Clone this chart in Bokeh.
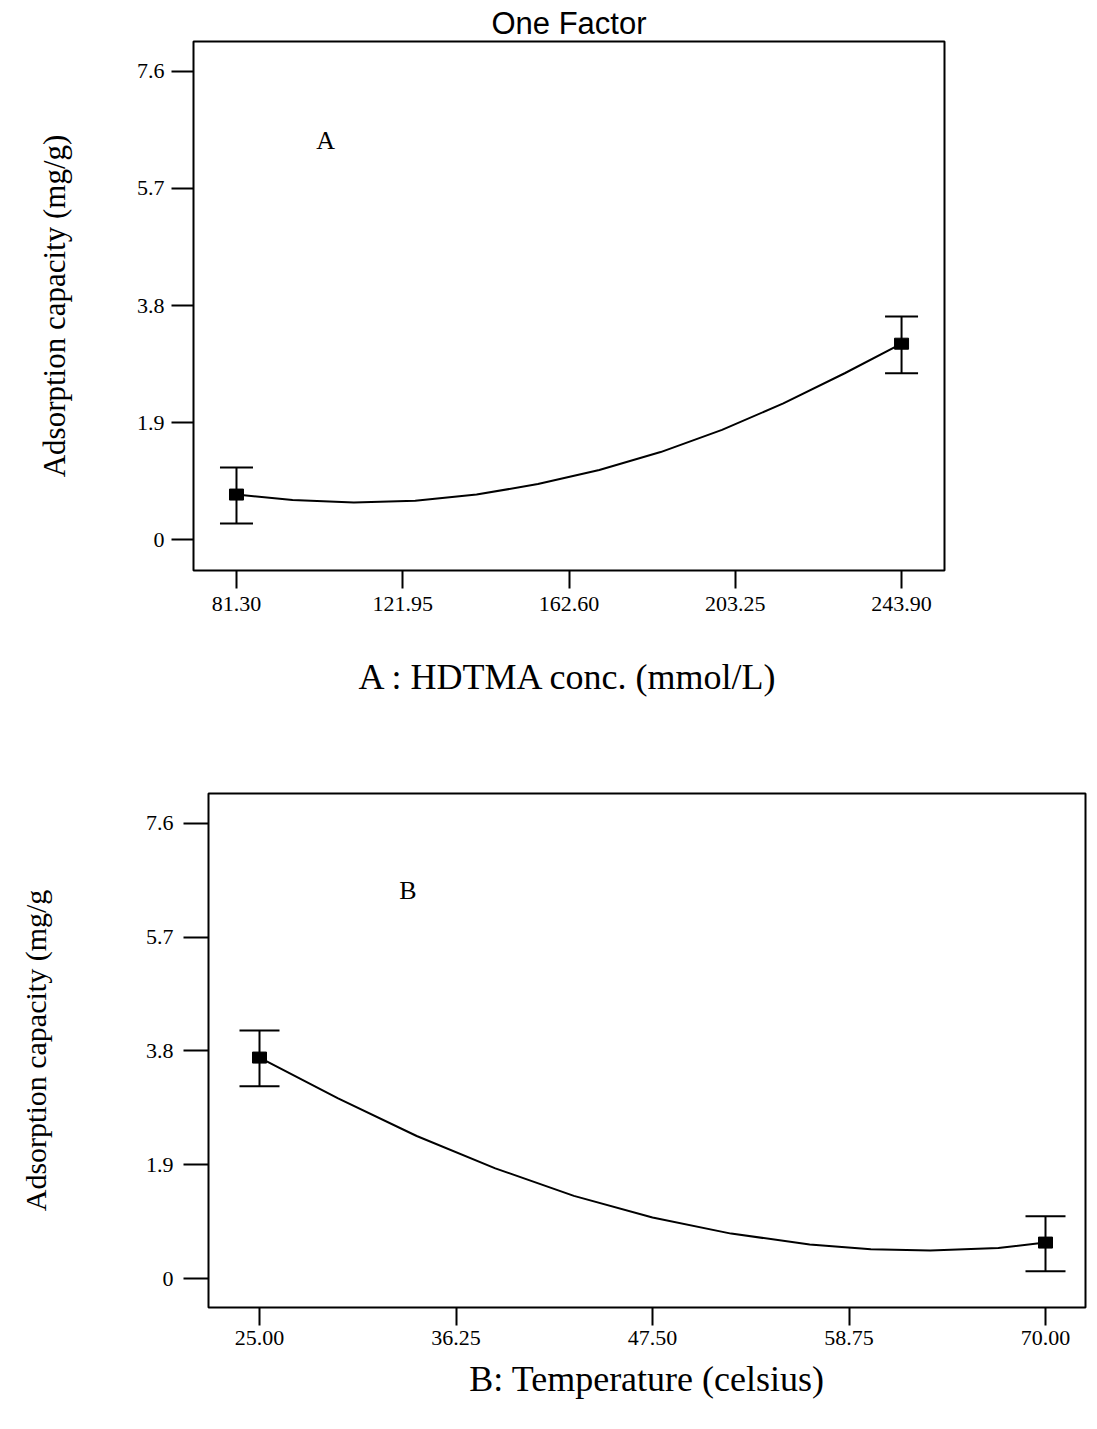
from bokeh.plotting import figure
from bokeh.models import Range1d, FixedTicker, Whisker, TeeHead, Label, ColumnDataSource, Spacer
from bokeh.layouts import column, row
from bokeh.embed import file_html
from bokeh.resources import INLINE

# ---------------- data ----------------
y_ticks = [0.0, 1.9, 3.8, 5.7, 7.6]
y_tick_labels = ["0", "1.9", "3.8", "5.7", "7.6"]

hdtma_ticks = [81.30, 121.95, 162.60, 203.25, 243.90]
hdtma_tick_labels = ["81.30", "121.95", "162.60", "203.25", "243.90"]
hdtma_levels = [81.30, 243.90]
hdtma_capacity = [0.73, 3.18]
hdtma_lower = [0.26, 2.70]
hdtma_upper = [1.17, 3.62]
hdtma_curve_x = [81.3, 95, 110, 125, 140, 155, 170, 185, 200, 215, 230, 243.9]
hdtma_curve_y = [0.73, 0.64, 0.60, 0.63, 0.73, 0.90, 1.13, 1.42, 1.78, 2.21, 2.70, 3.18]

temp_ticks = [25.00, 36.25, 47.50, 58.75, 70.00]
temp_tick_labels = ["25.00", "36.25", "47.50", "58.75", "70.00"]
temp_levels = [25.0, 70.0]
temp_capacity = [3.69, 0.60]
temp_lower = [3.21, 0.12]
temp_upper = [4.14, 1.04]
temp_curve_x = [25, 29.5, 34, 38.5, 43, 47.5, 52, 56.5, 60, 63.4, 67.3, 70]
temp_curve_y = [3.69, 3.01, 2.38, 1.84, 1.38, 1.02, 0.75, 0.57, 0.49, 0.47, 0.51, 0.60]

SERIF = "Liberation Serif"


def style_axes(p, xt, xl, x_label, y_label, ytick_out, ylab_standoff, y_major_standoff,
               x_major_standoff, xlab_standoff, ylabel_size):
    xa = p.xaxis[0]
    ya = p.yaxis[0]
    xa.ticker = FixedTicker(ticks=xt)
    xa.major_label_overrides = dict(zip(xt, xl))
    ya.ticker = FixedTicker(ticks=y_ticks)
    ya.major_label_overrides = dict(zip(y_ticks, y_tick_labels))
    for ax in (xa, ya):
        ax.axis_line_color = None
        ax.major_tick_line_color = "black"
        ax.major_tick_line_width = 2
        ax.major_tick_in = 0
        ax.minor_tick_line_color = None
        ax.major_label_text_font = SERIF
        ax.major_label_text_font_size = "22px"
        ax.major_label_text_color = "black"
        ax.axis_label_text_font = SERIF
        ax.axis_label_text_font_style = "normal"
        ax.axis_label_text_color = "black"
    xa.major_tick_out = 18
    ya.major_tick_out = ytick_out
    xa.major_label_standoff = x_major_standoff
    ya.major_label_standoff = y_major_standoff
    xa.axis_label = x_label
    ya.axis_label = y_label
    xa.axis_label_text_font_size = "36px"
    ya.axis_label_text_font_size = ylabel_size
    xa.axis_label_standoff = xlab_standoff
    ya.axis_label_standoff = ylab_standoff
    p.xgrid.grid_line_color = None
    p.ygrid.grid_line_color = None
    p.outline_line_color = "black"
    p.outline_line_width = 2
    p.outline_line_alpha = 1.0


def add_series(p, xs, ys, lo, hi, cx, cy, cap):
    p.line(cx, cy, line_color="black", line_width=2)
    src = ColumnDataSource(dict(x=xs, lower=lo, upper=hi))
    p.add_layout(Whisker(source=src, base="x", lower="lower", upper="upper",
                         line_color="black", line_width=2,
                         upper_head=TeeHead(size=cap, line_color="black", line_width=2),
                         lower_head=TeeHead(size=cap, line_color="black", line_width=2)))
    p.rect(xs, ys, width=14, height=11, width_units="screen", height_units="screen",
           fill_color="black", line_color="black")


# ---------------- top figure ----------------
p1 = figure(width=949, height=730, output_backend="svg", toolbar_location=None,
            x_range=Range1d(70.79, 254.4), y_range=Range1d(-0.503, 8.087),
            min_border_left=193, min_border_right=5, min_border_top=41,
            min_border_bottom=160, background_fill_color="white",
            border_fill_color="white")
p1.title.text = "One Factor"
p1.title.align = "center"
p1.title.text_font = "Liberation Sans"
p1.title.text_font_style = "normal"
p1.title.text_font_size = "31px"
p1.title.text_color = "black"
p1.title.standoff = 2
style_axes(p1, hdtma_ticks, hdtma_tick_labels, "A : HDTMA conc. (mmol/L)",
           "Adsorption capacity (mg/g)", 22, 62, 7, 8, 43, "31px")
add_series(p1, hdtma_levels, hdtma_capacity, hdtma_lower, hdtma_upper,
           hdtma_curve_x, hdtma_curve_y, 33)
p1.add_layout(Label(x=103.1, y=6.48, text="A", text_font=SERIF, text_font_size="26px",
                    text_align="center", text_baseline="middle", text_color="black"))

# ---------------- bottom figure ----------------
p2 = figure(width=1075, height=683, output_backend="svg", toolbar_location=None,
            x_range=Range1d(22.08, 72.29), y_range=Range1d(-0.484, 8.10),
            min_border_left=193, min_border_right=5, min_border_top=63,
            min_border_bottom=106, background_fill_color="white",
            border_fill_color="white")
style_axes(p2, temp_ticks, temp_tick_labels, "B: Temperature (celsius)",
           "Adsorption capacity (mg/g", 25, 91, 10, 5, 11, "30px")
add_series(p2, temp_levels, temp_capacity, temp_lower, temp_upper,
           temp_curve_x, temp_curve_y, 40)
p2.add_layout(Label(x=33.5, y=6.48, text="B", text_font=SERIF, text_font_size="26px",
                    text_align="center", text_baseline="middle", text_color="black"))

layout = column(p1, row(Spacer(width=15, height=683), p2, spacing=0), spacing=0)
open("out.html", "w").write(file_html(layout, INLINE))
